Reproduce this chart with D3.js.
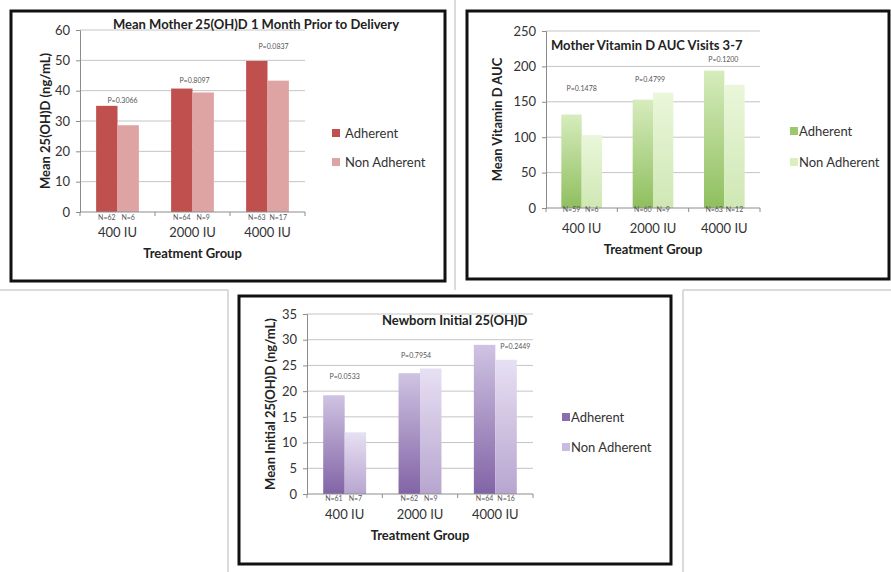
<!DOCTYPE html>
<html>
<head>
<meta charset="utf-8">
<script src="https://cdn.jsdelivr.net/npm/d3@7"></script>
<style>
  body { margin: 0; background: #fff; }
  svg { display: block; font-family: Lato, "Open Sans", sans-serif; }
</style>
</head>
<body>
<svg width="891" height="572"></svg>
<script>
const groups = ["400 IU", "2000 IU", "4000 IU"];
const seriesNames = ["Adherent", "Non Adherent"];

// mother 25(OH)D one month before delivery
const motherAdherent = [35.0, 40.7, 49.8];
const motherNonAdherent = [28.6, 39.4, 43.3];
const motherP = ["P=0.3066", "P=0.8097", "P=0.0837"];
const motherN = [["N=62", "N=6"], ["N=64", "N=9"], ["N=63", "N=17"]];
const motherTicks = [0, 10, 20, 30, 40, 50, 60];

// mother vitamin D AUC, visits 3-7
const aucAdherent = [132, 153, 194];
const aucNonAdherent = [103, 163, 174];
const aucP = ["P=0.1478", "P=0.4799", "P=0.1200"];
const aucN = [["N=59", "N=6"], ["N=60", "N=9"], ["N=63", "N=12"]];
const aucTicks = [0, 50, 100, 150, 200, 250];

// newborn initial 25(OH)D
const babyAdherent = [19.2, 23.5, 29.0];
const babyNonAdherent = [12.0, 24.4, 26.1];
const babyP = ["P=0.0533", "P=0.7954", "P=0.2449"];
const babyN = [["N=61", "N=7"], ["N=62", "N=9"], ["N=64", "N=16"]];
const babyTicks = [0, 5, 10, 15, 20, 25, 30, 35];

const svg = d3.select("svg");
const defs = svg.append("defs");

// light grey edges of the pasted screenshots
const edges = [
  [0, 290, 228, 290], [683, 290, 891, 290],
  [455, 0, 455, 290], [228, 290, 228, 572], [683, 290, 683, 572]
];
// prettier-ignore
svg.append("g")
  .selectAll("line")
  .data(edges)
  .join("line")
    .attr("x1", d => d[0]).attr("y1", d => d[1])
    .attr("x2", d => d[2]).attr("y2", d => d[3])
    .attr("stroke", "#cfcfcf")
    .attr("stroke-width", 1.5)

const makeGradient = (id, top, bottom) => {
  const g = defs.append("linearGradient")
    .attr("id", id)
    .attr("x1", 0).attr("y1", 0).attr("x2", 0).attr("y2", 1);
  g.append("stop").attr("offset", "0%").attr("stop-color", top);
  g.append("stop").attr("offset", "100%").attr("stop-color", bottom);
  return `url(#${id})`;
};

const panels = [
  {
    values: [motherAdherent, motherNonAdherent], p: motherP, n: motherN, ticks: motherTicks,
    frame: [11, 11, 434, 270],
    x0: 80, x1: 305, top: 30, bottom: 212,
    title: "Mean Mother 25(OH)D 1 Month Prior to Delivery", titleX: 256, titleY: 24, titleAnchor: "middle",
    yLabel: "Mean 25(OH)D (ng/mL)", yLabelX: 45,
    legendX: 332, legendY: [133, 162], legendDx: 13,
    fills: ["#c0504d", "#dea3a3"],
    pAt: [36.9, 43.5, 54.4], pDx: [5, 2, 6], nDy: 6
  },
  {
    values: [aucAdherent, aucNonAdherent], p: aucP, n: aucN, ticks: aucTicks,
    frame: [467, 11, 422, 268],
    x0: 546, x1: 760, top: 31, bottom: 208,
    title: "Mother Vitamin D AUC Visits 3-7", titleX: 551, titleY: 45, titleAnchor: "start",
    yLabel: "Mean Vitamin D AUC", yLabelX: 497,
    legendX: 790, legendY: [131, 162], legendDx: 9,
    fills: [makeGradient("gA", "#d6ecbd", "#8fbf5e"), makeGradient("gN", "#eaf7da", "#cfe7b4")],
    swatches: ["#9bc86c", "#d8efbf"],
    pAt: [169, 182, 209], pDx: [0, -3, -1], nDy: 2
  },
  {
    values: [babyAdherent, babyNonAdherent], p: babyP, n: babyN, ticks: babyTicks,
    frame: [239, 296, 432, 268],
    x0: 307, x1: 533, top: 314, bottom: 494,
    title: "Newborn Initial 25(OH)D", titleX: 382, titleY: 320, titleAnchor: "start",
    yLabel: "Mean Initial 25(OH)D (ng/mL)", yLabelX: 270,
    legendX: 562, legendY: [417, 447], legendDx: 9,
    fills: [makeGradient("pA", "#cfc3e2", "#8264a6"), makeGradient("pN", "#e7e0f3", "#b7a5cf")],
    swatches: ["#8a6daf", "#c9bce0"],
    pAt: [22.9, 27.0, 28.6], pDx: [0, -4, 20], nDy: 5
  }
];

const drawPanel = (cfg) => {
  const g = svg.append("g");

  // prettier-ignore
  g.append("rect")
    .attr("x", cfg.frame[0]).attr("y", cfg.frame[1])
    .attr("width", cfg.frame[2]).attr("height", cfg.frame[3])
    .attr("fill", "none")
    .attr("stroke", "#111")
    .attr("stroke-width", 3)

  const maxTick = cfg.ticks[cfg.ticks.length - 1];

  // prettier-ignore
  const y = d3.scaleLinear()
    .domain([0, maxTick])
    .range([cfg.bottom, cfg.top])

  // prettier-ignore
  const x = d3.scaleBand()
    .domain(groups)
    .range([cfg.x0, cfg.x1])
    .paddingInner(0.43)
    .paddingOuter(0.215)

  // prettier-ignore
  const xs = d3.scaleBand()
    .domain(seriesNames)
    .range([0, x.bandwidth()])

  // gridlines
  // prettier-ignore
  g.append("g")
    .selectAll("line")
    .data(cfg.ticks.slice(1))
    .join("line")
      .attr("x1", cfg.x0).attr("x2", cfg.x1)
      .attr("y1", d => y(d)).attr("y2", d => y(d))
      .attr("stroke", "#c4c4c4")
      .attr("stroke-width", 1)

  // bars
  const rows = [];
  groups.forEach((grp, i) => {
    seriesNames.forEach((s, j) => {
      rows.push({ grp, s, j, i, v: cfg.values[j][i], n: cfg.n[i][j] });
    });
  });

  // prettier-ignore
  g.append("g")
    .selectAll("rect")
    .data(rows)
    .join("rect")
      .attr("x", d => x(d.grp) + xs(d.s))
      .attr("y", d => y(d.v))
      .attr("width", xs.bandwidth())
      .attr("height", d => y(0) - y(d.v))
      .attr("fill", d => cfg.fills[d.j])

  // y axis
  // prettier-ignore
  const yAxis = g.append("g")
    .attr("transform", `translate(${cfg.x0},0)`)
    .call(d3.axisLeft(y).tickValues(cfg.ticks).tickSize(4).tickPadding(6))
  yAxis.selectAll("path, line").attr("stroke", "#8c8c8c");
  yAxis.selectAll("text")
    .attr("font-size", 13)
    .attr("fill", "#333")
    .attr("font-family", "Lato, sans-serif");

  // x axis
  const xAxisLine = g.append("g");
  xAxisLine.append("line")
    .attr("x1", cfg.x0).attr("x2", cfg.x1)
    .attr("y1", cfg.bottom).attr("y2", cfg.bottom)
    .attr("stroke", "#8c8c8c");
  const step = x.step();
  // prettier-ignore
  xAxisLine.selectAll("line.tk")
    .data(d3.range(groups.length + 1))
    .join("line")
      .attr("class", "tk")
      .attr("x1", i => cfg.x0 + i * step).attr("x2", i => cfg.x0 + i * step)
      .attr("y1", cfg.bottom).attr("y2", cfg.bottom + 4)
      .attr("stroke", "#8c8c8c")

  // N labels
  // prettier-ignore
  g.append("g")
    .selectAll("text")
    .data(rows)
    .join("text")
      .attr("x", d => x(d.grp) + xs(d.s) + xs.bandwidth() / 2)
      .attr("y", cfg.bottom + cfg.nDy)
      .attr("dy", "0.35em")
      .attr("text-anchor", "middle")
      .attr("font-size", 7)
      .attr("fill", "#555")
      .text(d => d.n)

  // P labels
  // prettier-ignore
  g.append("g")
    .selectAll("text")
    .data(groups)
    .join("text")
      .attr("x", (d, i) => x(d) + x.bandwidth() / 2 + cfg.pDx[i])
      .attr("y", (d, i) => y(cfg.pAt[i]))
      .attr("dy", "0.35em")
      .attr("text-anchor", "middle")
      .attr("font-size", 7)
      .attr("fill", "#555")
      .text((d, i) => cfg.p[i])

  // category labels
  // prettier-ignore
  g.append("g")
    .selectAll("text")
    .data(groups)
    .join("text")
      .attr("x", d => x(d) + x.bandwidth() / 2)
      .attr("y", cfg.bottom + 20)
      .attr("dy", "0.35em")
      .attr("text-anchor", "middle")
      .attr("font-size", 13)
      .attr("fill", "#333")
      .text(d => d)

  // axis titles
  g.append("text")
    .attr("x", (cfg.x0 + cfg.x1) / 2)
    .attr("y", cfg.bottom + 41)
    .attr("dy", "0.35em")
    .attr("text-anchor", "middle")
    .attr("font-size", 13)
    .attr("font-weight", "bold")
    .attr("fill", "#222")
    .text("Treatment Group");

  g.append("text")
    .attr("transform", `translate(${cfg.yLabelX},${(cfg.top + cfg.bottom) / 2}) rotate(-90)`)
    .attr("dy", "0.35em")
    .attr("text-anchor", "middle")
    .attr("font-size", 13)
    .attr("font-weight", "bold")
    .attr("fill", "#222")
    .text(cfg.yLabel);

  // chart title
  g.append("text")
    .attr("x", cfg.titleX)
    .attr("y", cfg.titleY)
    .attr("dy", "0.35em")
    .attr("text-anchor", cfg.titleAnchor)
    .attr("font-size", 13)
    .attr("font-weight", "bold")
    .attr("fill", "#222")
    .text(cfg.title);

  // legend
  const swatches = cfg.swatches || cfg.fills;
  // prettier-ignore
  const leg = g.append("g")
    .selectAll("g")
    .data(seriesNames)
    .join("g")
      .attr("transform", (d, i) => `translate(${cfg.legendX},${cfg.legendY[i]})`)
  leg.append("rect")
    .attr("x", 0).attr("y", -4)
    .attr("width", 8).attr("height", 8)
    .attr("fill", (d, i) => swatches[i]);
  leg.append("text")
    .attr("x", cfg.legendDx)
    .attr("dy", "0.35em")
    .attr("font-size", 13)
    .attr("fill", "#333")
    .text(d => d);
};

panels.forEach(drawPanel);
</script>
</body>
</html>
